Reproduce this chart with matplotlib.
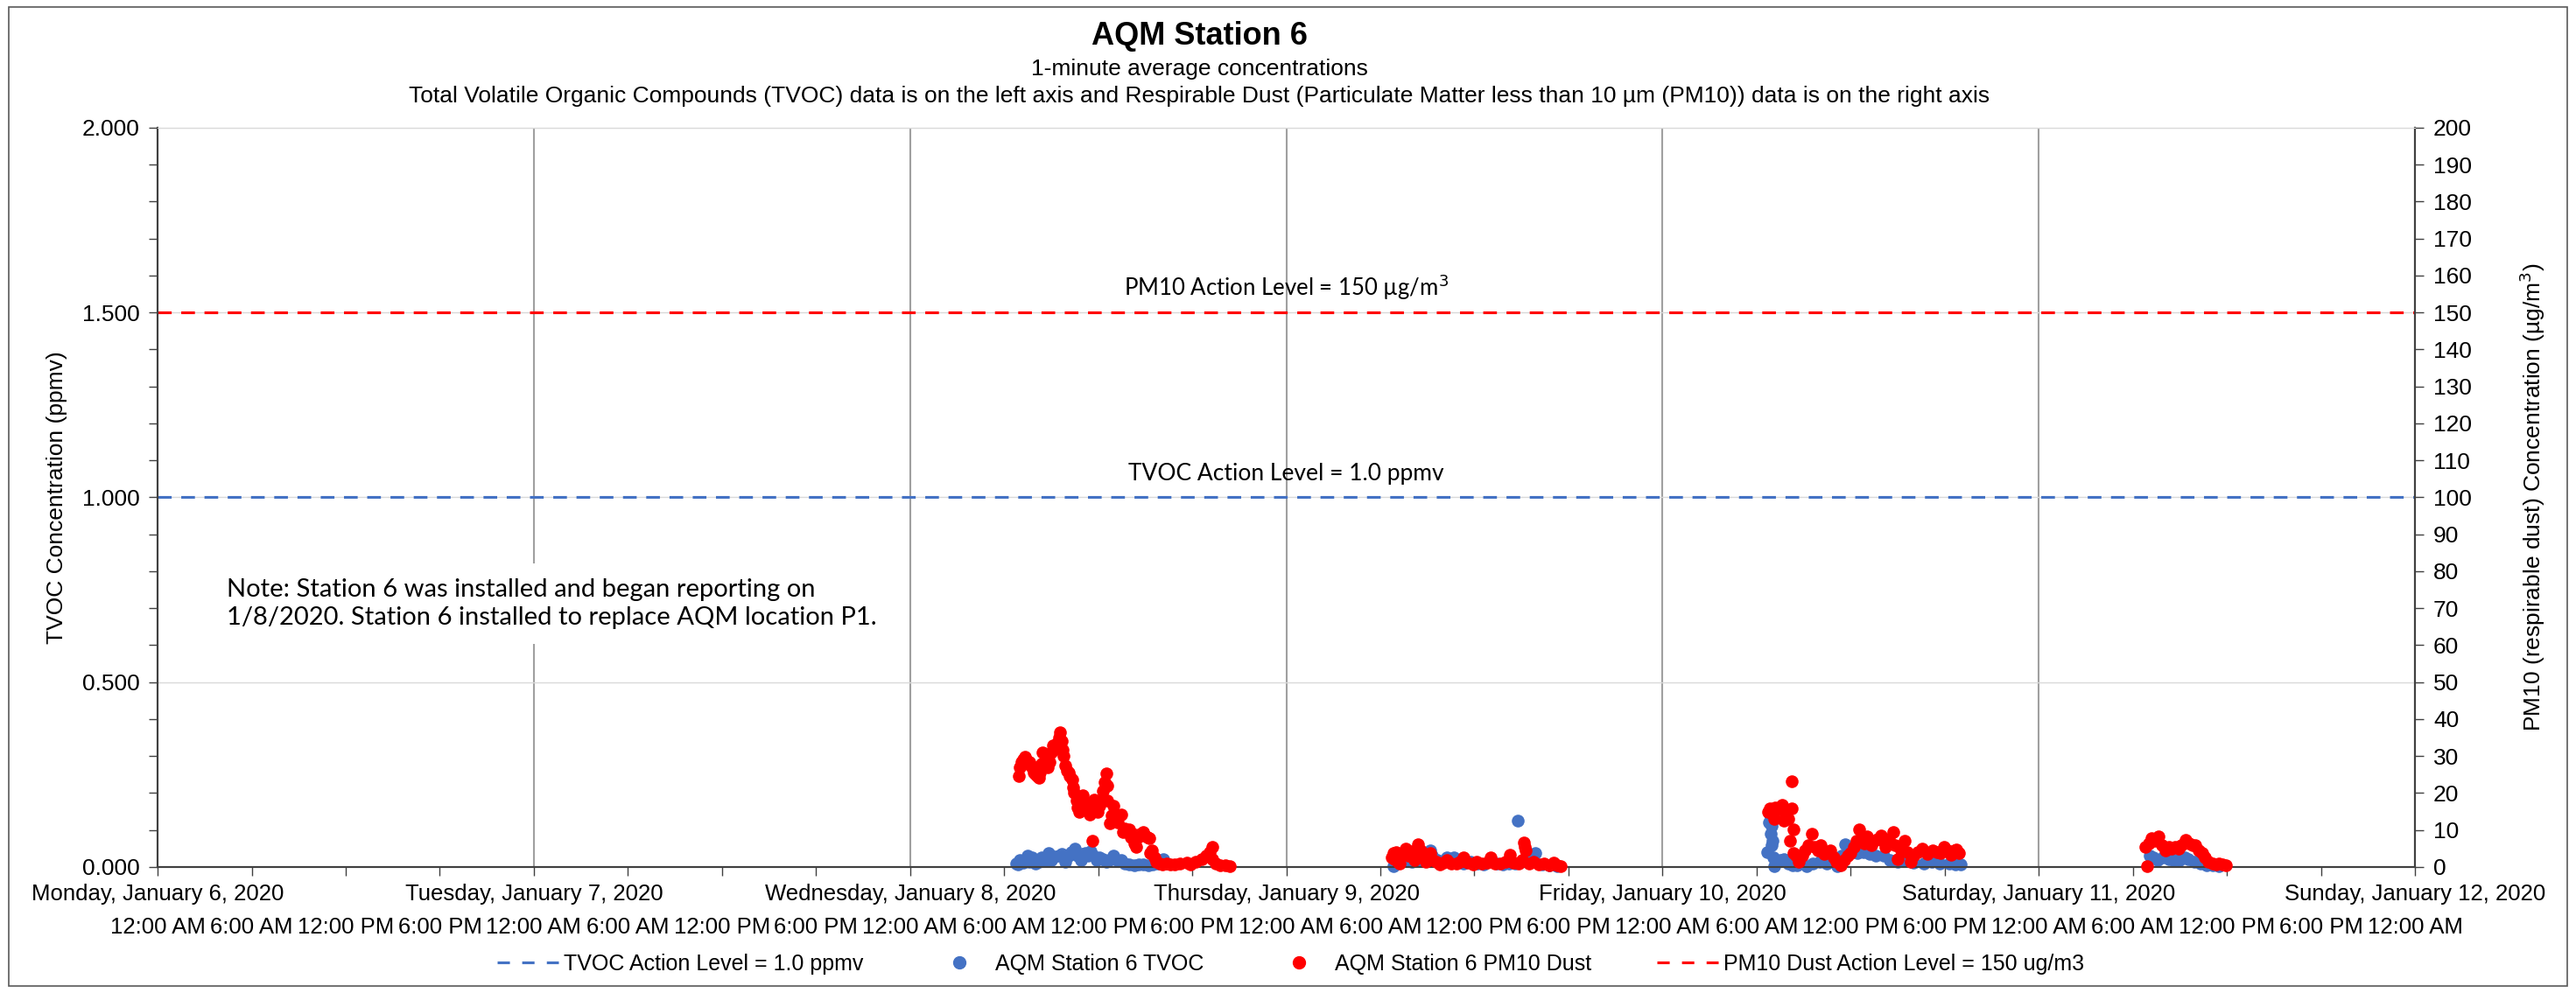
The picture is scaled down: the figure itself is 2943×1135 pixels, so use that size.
import numpy as np
import matplotlib
matplotlib.use('Agg')
import matplotlib.pyplot as plt
from matplotlib.lines import Line2D
from matplotlib.patches import Rectangle
from matplotlib.ticker import MultipleLocator, FormatStrFormatter

plt.rcParams['font.family'] = ['Liberation Sans', 'DejaVu Sans']

# axis labels
day_labels = ['Monday, January 6, 2020', 'Tuesday, January 7, 2020', 'Wednesday, January 8, 2020',
              'Thursday, January 9, 2020', 'Friday, January 10, 2020', 'Saturday, January 11, 2020',
              'Sunday, January 12, 2020']
time_labels = ['12:00 AM', '6:00 AM', '12:00 PM', '6:00 PM'] * 6 + ['12:00 AM']

tvoc_action = 1.0      # ppmv
pm10_action = 150      # ug/m3

# readings: hour of day and value, one pair of lists per day (day index from Mon Jan 6)
jan8_tvoc_hr = [6.75, 6.9, 7.0, 7.2, 7.48, 7.6, 7.8, 8.0, 8.23, 8.4, 8.6, 8.81, 9.0, 9.2, 9.5, 9.7, 9.9,
                10.1, 10.3, 10.52, 10.7, 10.9, 11.0, 11.2, 11.35, 11.5, 11.7, 11.9, 12.1, 12.29, 12.5,
                12.7, 12.98, 13.2, 13.47, 13.7, 14.0, 14.3, 14.6, 14.86, 15.2, 15.5, 15.8, 16.14, 16.35]
jan8_tvoc = [0.010, 0.006, 0.020, 0.012, 0.030, 0.015, 0.025, 0.010, 0.014, 0.025, 0.020, 0.038, 0.020,
             0.028, 0.030, 0.035, 0.015, 0.030, 0.040, 0.050, 0.030, 0.020, 0.035, 0.038, 0.030, 0.042,
             0.030, 0.020, 0.025, 0.022, 0.015, 0.020, 0.030, 0.020, 0.018, 0.010, 0.006, 0.005, 0.006,
             0.006, 0.005, 0.008, 0.010, 0.022, 0.010]
jan8_pm_hr = [6.95, 7.0, 7.1, 7.2, 7.3, 7.4, 7.5, 7.6, 7.7, 7.8, 7.9, 8.0, 8.1, 8.2, 8.3, 8.4, 8.45, 8.6,
              8.7, 8.8, 8.9, 9.0, 9.1, 9.2, 9.3, 9.4, 9.5, 9.58, 9.65, 9.73, 9.8, 9.9, 10.0, 10.1, 10.2,
              10.37, 10.4, 10.45, 10.6, 10.7, 10.79, 10.9, 11.01, 11.1, 11.2, 11.3, 11.44, 11.55, 11.65,
              11.76, 11.85, 11.95, 12.05, 12.15, 12.29, 12.4, 12.51, 12.55, 12.6, 12.72, 12.85, 12.98,
              13.1, 13.25, 13.35, 13.47, 13.57, 13.7, 13.85, 14.0, 14.1, 14.2, 14.3, 14.43, 14.55, 14.7,
              14.86, 15.0, 15.15, 15.28, 15.3, 15.45, 15.6, 15.71, 15.9, 16.1, 16.35, 16.6, 16.9, 17.2,
              17.63, 17.9, 18.2, 18.59, 18.9, 19.1, 19.3, 19.28, 19.5, 19.8, 20.1, 20.41]
jan8_pm = [24.5, 27, 28.5, 29, 29.7, 29, 28, 28.5, 27.5, 26.9, 25.5, 25, 24.5, 24.1, 25.5, 28, 30.9, 28.5,
           27.5, 27, 28.5, 31, 32.9, 33, 32, 33.5, 35, 36.4, 34, 31.6, 30, 27.5, 26, 25.5, 24.5,
           23.7, 21.5, 20.1, 18, 16, 15, 17, 19.3, 17.5, 16, 15.5, 14.2, 16, 7.0,
           18.1, 16.5, 15, 16.5, 18, 20.5, 23, 25.3, 22, 18, 11.8, 14, 16.5,
           14, 12, 14, 14.2, 9.4, 10.5, 9.8, 10.2, 8, 9, 6.5, 5.4, 8, 9,
           9.4, 8.5, 8, 7.8, 3.8, 4.5, 2.5, 1.4, 1.0, 0.8, 1.0, 0.6, 0.8, 0.9,
           1.2, 0.8, 1.5, 2.2, 3.0, 4.0, 5.4, 2.2, 1.0, 0.5, 0.4, 0.2]

jan9_tvoc_hr = [6.81, 7.0, 7.24, 7.6, 8.0, 8.4, 8.8, 9.16, 9.3, 9.6, 9.9, 10.23, 10.66, 11.0, 11.3, 11.73,
                12.2, 12.6, 13.01, 13.4, 13.8, 14.2, 14.6, 14.78, 15.0, 15.57, 15.89, 16.3, 16.8, 17.28]
jan9_tvoc = [0.002, 0.010, 0.014, 0.020, 0.015, 0.020, 0.030, 0.046, 0.030, 0.020, 0.015, 0.026, 0.026,
             0.015, 0.010, 0.014, 0.010, 0.008, 0.018, 0.010, 0.008, 0.010, 0.010, 0.126, 0.015, 0.022,
             0.038, 0.008, 0.005, 0.002]
jan9_pm_hr = [6.75, 6.81, 6.9, 7.0, 7.1, 7.24, 7.4, 7.62, 7.8, 8.0, 8.2, 8.42, 8.55, 8.74, 8.9, 9.16, 9.35,
              9.59, 9.8, 10.0, 10.23, 10.5, 10.87, 11.1, 11.3, 11.6, 11.9, 12.15, 12.5, 12.8, 13.01, 13.3,
              13.65, 14.0, 14.25, 14.5, 14.8, 15.04, 15.15, 15.2, 15.25, 15.5, 15.78, 16.1, 16.43, 16.8,
              17.07, 17.3, 17.5]
jan9_pm = [2.5, 3.8, 2.2, 4.0, 1.5, 0.9, 3.5, 5.0, 3.0, 4.2, 2.0, 6.2, 4.5, 3.0, 1.5, 3.8, 2.0,
           1.4, 0.8, 1.2, 1.8, 1.0, 0.9, 1.5, 2.6, 1.2, 0.8, 1.4, 1.0, 1.2, 2.6, 1.0,
           0.9, 1.5, 3.4, 1.2, 1.0, 1.8, 6.6, 5.5, 4.6, 1.0, 1.4, 0.6, 0.9, 0.5,
           1.2, 0.4, 0.2]

jan10_tvoc_hr = [6.7, 6.8, 6.86, 6.9, 6.97, 6.97, 7.0, 7.05, 7.1, 7.3, 7.5, 7.72, 8.0, 8.3, 8.6, 9.21, 9.6,
                 10.0, 10.5, 11.14, 11.4, 11.67, 11.9, 12.1, 12.42, 12.8, 13.2, 13.6, 14.13, 14.5, 15.0,
                 15.5, 16.0, 16.69, 17.2, 17.7, 18.3, 18.7, 19.03]
jan10_tvoc = [0.040, 0.120, 0.142, 0.090, 0.110, 0.058, 0.070, 0.026, 0.002, 0.015, 0.020, 0.022, 0.010,
              0.005, 0.005, 0.002, 0.010, 0.015, 0.010, 0.002, 0.030, 0.062, 0.050, 0.040, 0.038, 0.040,
              0.035, 0.030, 0.030, 0.020, 0.015, 0.020, 0.012, 0.010, 0.015, 0.010, 0.010, 0.008, 0.006]
jan10_pm_hr = [6.74, 6.86, 7.0, 7.1, 7.2, 7.4, 7.61, 7.72, 7.85, 8.0, 8.15, 8.25, 8.25, 8.36, 8.36, 8.5,
               8.68, 8.9, 9.1, 9.3, 9.53, 9.7, 9.9, 10.07, 10.3, 10.5, 10.71, 10.9, 11.1, 11.35, 11.6,
               11.8, 11.99, 12.2, 12.4, 12.53, 12.7, 12.85, 13.06, 13.3, 13.5, 13.7, 13.91, 14.05, 14.23,
               14.45, 14.7, 14.85, 14.98, 15.2, 15.47, 15.6, 15.83, 16.0, 16.3, 16.58, 16.9, 17.22, 17.5,
               17.75, 17.97, 18.2, 18.4, 18.6, 18.75, 18.93]
jan10_pm = [15.0, 15.8, 14.5, 13, 16, 15.5, 16.9, 12.6, 14, 13, 7.0, 15.8, 23.3, 10.2, 3.8, 3.0,
            1.4, 3.0, 4.5, 6, 9.0, 5.5, 4.5, 5.8, 3.5, 4.0, 4.6, 2.5, 1.5, 0.5, 2.0,
            3.0, 3.8, 5.5, 7.0, 10.2, 7.5, 6.5, 8.2, 6.0, 7.0, 7.5, 8.6, 7.0, 5.4,
            7.5, 9.4, 6.0, 2.2, 4.5, 7.0, 4.0, 1.4, 3.0, 4.0, 5.0, 3.5, 4.6, 4.0,
            3.8, 5.4, 4.5, 3.4, 4.5, 4.8, 3.8]

jan11_tvoc_hr = [7.1, 7.3, 7.6, 7.9, 8.28, 8.6, 9.0, 9.3, 9.56, 9.9, 10.3, 10.7, 11.1, 11.48]
jan11_tvoc = [0.030, 0.025, 0.020, 0.025, 0.022, 0.020, 0.020, 0.025, 0.022, 0.015, 0.010, 0.005, 0.004,
              0.002]
jan11_pm_hr = [6.79, 6.89, 7.0, 7.21, 7.4, 7.64, 7.85, 8.06, 8.3, 8.5, 8.7, 8.9, 9.1, 9.35, 9.6, 9.8,
               9.99, 10.2, 10.41, 10.6, 10.84, 11.1, 11.3, 11.48, 11.7, 11.91]
jan11_pm = [5.4, 0.2, 6.5, 7.8, 7.0, 8.2, 6.0, 4.6, 5.5, 5.0, 5.4, 5.0, 6.0, 7.4, 6.5, 6.0,
            5.8, 4.5, 3.8, 2.5, 1.4, 1.0, 0.8, 0.9, 0.6, 0.5]

blue = '#4472C4'
red = '#FF0000'


def hrs(day, h):
    return day * 24 + np.array(h)


tvoc_x = np.concatenate([hrs(2, jan8_tvoc_hr), hrs(3, jan9_tvoc_hr), hrs(4, jan10_tvoc_hr), hrs(5, jan11_tvoc_hr)])
tvoc_y = np.concatenate([jan8_tvoc, jan9_tvoc, jan10_tvoc, jan11_tvoc])
pm_x = np.concatenate([hrs(2, jan8_pm_hr), hrs(3, jan9_pm_hr), hrs(4, jan10_pm_hr), hrs(5, jan11_pm_hr)])
pm_y = np.concatenate([jan8_pm, jan9_pm, jan10_pm, jan11_pm])

fig = plt.figure(figsize=(29.43, 11.35), dpi=100)
ax = fig.add_axes([0.0612, 0.1269, 0.8763, 0.7445])
ax2 = ax.twinx()

# left axis (TVOC)
ax.set_xlim(0, 144)
ax.set_ylim(0, 2)
ax.yaxis.set_major_locator(MultipleLocator(0.5))
ax.yaxis.set_minor_locator(MultipleLocator(0.1))
ax.yaxis.set_major_formatter(FormatStrFormatter('%.3f'))
ax.set_xticks(np.arange(0, 145, 6))
ax.set_xticklabels(time_labels)
ax.xaxis.remove_overlapping_locs = False
ax.set_xticks(np.arange(0, 145, 24), minor=True)
ax.tick_params(axis='x', which='major', length=7, width=1, color='#404040', pad=34, labelsize=18.5)
ax.tick_params(axis='x', which='minor', length=0)
ax.tick_params(axis='y', which='both', length=7, width=1, color='#404040', labelsize=19, pad=8)
ax.grid(axis='x', which='minor', color='#a0a0a0', lw=1.5)
ax.grid(axis='y', which='major', color='#d9d9d9', lw=1)
ax.set_axisbelow(True)
ax.set_ylabel('TVOC Concentration (ppmv)', fontsize=19, labelpad=12)

for i, d in enumerate(day_labels):
    ax.text(i * 24, -0.0367, d, transform=ax.get_xaxis_transform(), ha='center', va='center', fontsize=18.5)

ax.axhline(tvoc_action, color=blue, lw=2.25, dashes=(5, 3.5), zorder=2)
ax.scatter(tvoc_x, tvoc_y, s=110, color=blue, lw=0, zorder=3, clip_on=False)

# right axis (PM10)
ax2.set_ylim(0, 200)
ax2.yaxis.set_major_locator(MultipleLocator(10))
ax2.tick_params(axis='y', length=7, width=1, color='#404040', labelsize=19, pad=8)
ax2.set_ylabel('PM10 (respirable dust) Concentration (µg/m$^3$)', fontsize=19, labelpad=38, rotation=90)
ax2.scatter(pm_x, pm_y, s=110, color=red, lw=0, zorder=3, clip_on=False)
ax2.axhline(pm10_action, color=red, lw=2.25, dashes=(5, 3.5), zorder=2)

for a in (ax, ax2):
    for side in ('left', 'right', 'bottom'):
        a.spines[side].set_color('#404040')
        a.spines[side].set_linewidth(1.5)
    a.spines['top'].set_color('#d9d9d9')

# annotations
calibri = ['Lato', 'DejaVu Sans']
ax.text(72, 1.569, 'PM10 Action Level = 150 µg/m$^3$', ha='center', va='center', fontsize=18.5, family=calibri)
ax.text(72, 1.063, 'TVOC Action Level = 1.0 ppmv', ha='center', va='center', fontsize=19, family=calibri)
ax.text(4.41, 0.712, 'Note: Station 6 was installed and began reporting on\n'
        '1/8/2020. Station 6 installed to replace AQM location P1.',
        ha='left', va='center', fontsize=21, family=calibri, linespacing=1.3, zorder=4,
        bbox=dict(facecolor='white', edgecolor='none', pad=12))

# titles
fig.text(0.4655, 0.963, 'AQM Station 6', ha='center', va='center', fontsize=26, fontweight='bold')
fig.text(0.4655, 0.930, '1-minute average concentrations', ha='center', va='center', fontsize=19)
fig.text(0.4655, 0.903, 'Total Volatile Organic Compounds (TVOC) data is on the left axis and Respirable Dust '
         '(Particulate Matter less than 10 µm (PM10)) data is on the right axis',
         ha='center', va='center', fontsize=19)

handles = [Line2D([], [], color=blue, lw=2.25, dashes=(4.5, 4.5)),
           Line2D([], [], ls='none', marker='o', ms=10, color=blue),
           Line2D([], [], ls='none', marker='o', ms=10, color=red),
           Line2D([], [], color=red, lw=2.25, dashes=(4.5, 4.5))]
names = ['TVOC Action Level = 1.0 ppmv', 'AQM Station 6 TVOC', 'AQM Station 6 PM10 Dust',
         'PM10 Dust Action Level = 150 ug/m3']
fig.legend(handles, names, loc='center', bbox_to_anchor=(0.501, 0.029), ncol=4, frameon=False,
           fontsize=18, handlelength=2.8, handletextpad=0.25, columnspacing=2.96)

fig.patches.append(Rectangle((0.0034, 0.007), 0.9932, 0.986, transform=fig.transFigure,
                             fill=False, edgecolor='#595959', lw=1.2))

fig.savefig('out.png', dpi=100)
